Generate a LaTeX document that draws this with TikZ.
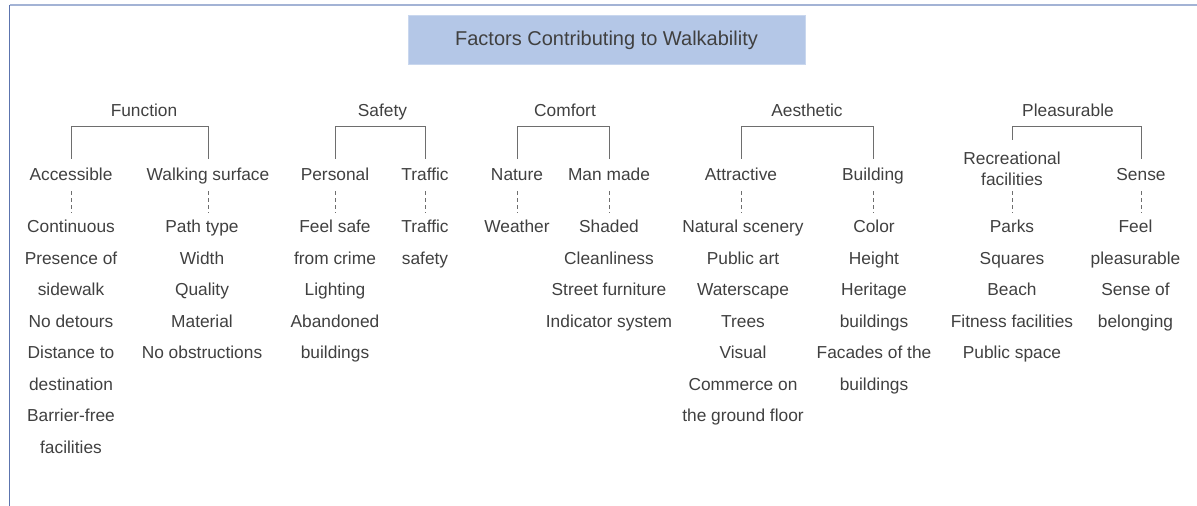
\documentclass[tikz,border=0pt]{standalone}
\usepackage{fontspec}
\setmainfont{Liberation Sans}

\definecolor{txtgray}{HTML}{404040}
\definecolor{linegray}{HTML}{6E6E6E}
\definecolor{titlefill}{HTML}{B4C7E7}
\definecolor{titleedge}{HTML}{C9D7EE}
\definecolor{framelight}{HTML}{A3B3D5}
\definecolor{framedark}{HTML}{5C74AE}

\begin{document}
\begin{tikzpicture}[x=0.75pt,y=-0.75pt]
  \tikzstyle{lbl}=[text=txtgray,inner sep=0pt,yshift=-1.1pt,font=\fontsize{13}{15.5}\selectfont]
  \tikzstyle{one}=[lbl,text height=0.72em,text depth=0pt]
  \tikzstyle{brace}=[draw=linegray,line width=0.75pt]
  \tikzstyle{dashlink}=[draw=linegray,line width=0.75pt,dash pattern=on 3pt off 2.25pt,
                        shorten <=7.5pt,shorten >=7.5pt]

  \useasboundingbox (0,0) rectangle (1197,506);

  % frame
  \draw[framedark,line width=1.1pt] (9.5,5) -- (9.5,506);
  \draw[framelight,line width=1.5pt] (9.5,5) -- (1197,5);

  % title
  \node[fill=titlefill,draw=titleedge,line width=0.5pt,minimum width=297.75pt,minimum height=36.75pt,
        text=txtgray,text height=0.88em,text depth=0pt,font=\fontsize{15}{18}\selectfont] (T) at (606.5,39.5)
        {Factors Contributing to Walkability};

  % main groups
  \node[one] (F) at (144,110)   {Function};
  \node[one] (S) at (382.5,110) {Safety};
  \node[one] (C) at (565,110)   {Comfort};
  \node[one] (A) at (807,110)   {Aesthetic};
  \node[one] (P) at (1068,110)  {Pleasurable};

  % sub groups
  \node[one] (acc)  at (71,174.5)   {Accessible};
  \node[one] (walk) at (208,174.5)  {Walking surface};
  \node[one] (pers) at (335,174.5)  {Personal};
  \node[one] (traf) at (425,174.5)  {Traffic};
  \node[one] (nat)  at (517,174.5)  {Nature};
  \node[one] (man)  at (609,174.5)  {Man made};
  \node[one] (attr) at (741,174.5)  {Attractive};
  \node[one] (bld)  at (873,174.5)  {Building};
  \node[lbl,align=center] (rec) at (1012,167.5) {Recreational\\facilities};
  \node[one] (sen)  at (1141,174.5) {Sense};

  % brackets
  \draw[brace] ([yshift=9.1pt]acc.north)  |- ([yshift=-7.75pt]F.south) -| ([yshift=9.1pt]walk.north);
  \draw[brace] ([yshift=9.1pt]pers.north) |- ([yshift=-7.75pt]S.south) -| ([yshift=9.1pt]traf.north);
  \draw[brace] ([yshift=9.1pt]nat.north)  |- ([yshift=-7.75pt]C.south) -| ([yshift=9.1pt]man.north);
  \draw[brace] ([yshift=9.1pt]attr.north) |- ([yshift=-7.75pt]A.south) -| ([yshift=9.1pt]bld.north);
  \draw[brace] ([yshift=9.1pt]rec.north)  |- ([yshift=-7.75pt]P.south) -| ([yshift=9.1pt]sen.north);

  % item lists
  \foreach \t [count=\i] in {Continuous,Presence of,sidewalk,No detours,Distance to,destination,Barrier-free,facilities}
    \node[one] (acc-\i) at (71,{226.5+31.5*(\i-1)}) {\t};
  \foreach \t [count=\i] in {Path type,Width,Quality,Material,No obstructions}
    \node[one] (walk-\i) at (202,{226.5+31.5*(\i-1)}) {\t};
  \foreach \t [count=\i] in {Feel safe,from crime,Lighting,Abandoned,buildings}
    \node[one] (pers-\i) at (335,{226.5+31.5*(\i-1)}) {\t};
  \foreach \t [count=\i] in {Traffic,safety}
    \node[one] (traf-\i) at (425,{226.5+31.5*(\i-1)}) {\t};
  \foreach \t [count=\i] in {Weather}
    \node[one] (nat-\i) at (517,{226.5+31.5*(\i-1)}) {\t};
  \foreach \t [count=\i] in {Shaded,Cleanliness,Street furniture,Indicator system}
    \node[one] (man-\i) at (609,{226.5+31.5*(\i-1)}) {\t};
  \foreach \t [count=\i] in {Natural scenery,Public art,Waterscape,Trees,Visual,Commerce on,the ground floor}
    \node[one] (attr-\i) at (743,{226.5+31.5*(\i-1)}) {\t};
  \foreach \t [count=\i] in {Color,Height,Heritage,buildings,Facades of the,buildings}
    \node[one] (bld-\i) at (874,{226.5+31.5*(\i-1)}) {\t};
  \foreach \t [count=\i] in {Parks,Squares,Beach,Fitness facilities,Public space}
    \node[one] (rec-\i) at (1012,{226.5+31.5*(\i-1)}) {\t};
  \foreach \t [count=\i] in {Feel,pleasurable,Sense of,belonging}
    \node[one] (sen-\i) at (1135.5,{226.5+31.5*(\i-1)}) {\t};

  % dashed links to the lists
  \foreach \g in {acc,walk,pers,traf,nat,man,attr,bld,sen}
    \draw[dashlink] (\g.south) -- (\g.south |- \g-1.north);
  \draw[dashlink,shorten <=4pt] (rec.south) -- (rec.south |- rec-1.north);

\end{tikzpicture}
\end{document}
